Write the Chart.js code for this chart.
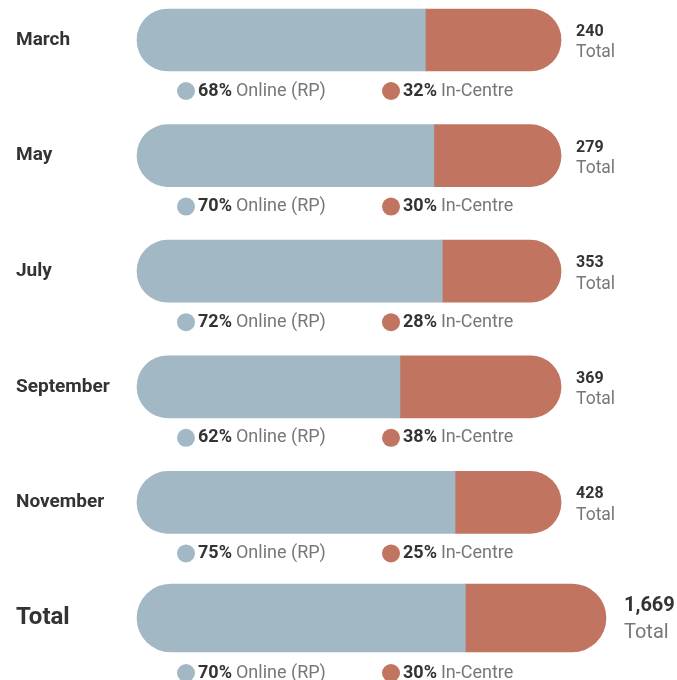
<!DOCTYPE html>
<html>
<head>
<meta charset="utf-8">
<script src="https://cdn.jsdelivr.net/npm/chart.js@4.4.0/dist/chart.umd.min.js"></script>
<style>
  html, body { margin: 0; padding: 0; background: #fff; }
  #wrap { width: 677px; height: 680px; position: relative; }
</style>
</head>
<body>
<div id="wrap"><canvas id="chart"></canvas></div>
<script>
const categories = ['March', 'May', 'July', 'September', 'November', 'Total'];
const onlinePct = [68, 70, 72, 62, 75, 70];
const inCentrePct = [32, 30, 28, 38, 25, 30];
const totals = [240, 279, 353, 369, 428, 1669];
const seriesNames = ['Online (RP)', 'In-Centre'];

const BLUE = '#a2b8c4';
const RED = '#c17460';
const DARK = '#333333';
const GREY = '#777777';
const FONT = 'Roboto, "Open Sans", sans-serif';
const last = categories.length - 1;

// month rows use one axis, the Total row its own (wider) axis
const monthsOnly = arr => arr.map((v, i) => (i < last ? v : null));
const totalOnly = arr => arr.map((v, i) => (i === last ? v : null));

const leftRound = { topLeft: 40, bottomLeft: 40, topRight: 0, bottomRight: 0 };
const rightRound = { topLeft: 0, bottomLeft: 0, topRight: 40, bottomRight: 40 };

const barBase = { borderSkipped: false, grouped: false, clip: false, borderWidth: 0 };

// text beside and below each bar
const annotations = {
    id: 'annotations',
    afterDatasetsDraw(chart) {
        const { ctx, scales, chartArea } = chart;
        ctx.save();
        categories.forEach((c, i) => {
            const y = scales.y.getPixelForValue(i);
            const isTotal = i === last;
            const xEnd = (isTotal ? scales.xTotal : scales.x).getPixelForValue(100) + (isTotal ? 18 : 15);

            // total count on the right
            ctx.textAlign = 'left';
            ctx.textBaseline = 'middle';
            ctx.fillStyle = DARK;
            ctx.font = `bold ${isTotal ? 20 : 16}px ${FONT}`;
            ctx.fillText(totals[i].toLocaleString('en-US'), xEnd, y + (isTotal ? -12 : -8));
            ctx.fillStyle = GREY;
            ctx.font = `${isTotal ? 20 : 17.5}px ${FONT}`;
            ctx.fillText('Total', xEnd, y + (isTotal ? 15 : 13));

            // legend line below the bar
            const ly = y + (isTotal ? 55 : 51);
            const items = [
                { x: chartArea.left + 49, pct: onlinePct[i], name: seriesNames[0], color: BLUE },
                { x: chartArea.left + 254, pct: inCentrePct[i], name: seriesNames[1], color: RED }
            ];
            items.forEach(it => {
                ctx.fillStyle = it.color;
                ctx.beginPath();
                ctx.arc(it.x, ly, 9, 0, Math.PI * 2);
                ctx.fill();
                let tx = it.x + 12;
                ctx.fillStyle = DARK;
                ctx.font = `bold 18px ${FONT}`;
                const p = it.pct + '%';
                ctx.fillText(p, tx, ly);
                tx += ctx.measureText(p).width + 4;
                ctx.fillStyle = GREY;
                ctx.font = `18px ${FONT}`;
                ctx.fillText(it.name, tx, ly);
            });
        });
        ctx.restore();
    }
};

new Chart(document.getElementById('chart'), {
    type: 'bar',
    data: {
        labels: categories,
        datasets: [
            { ...barBase, label: seriesNames[0], data: monthsOnly(onlinePct), backgroundColor: BLUE,
              borderRadius: leftRound, barThickness: 62, xAxisID: 'x' },
            { ...barBase, label: seriesNames[1], data: monthsOnly(inCentrePct), backgroundColor: RED,
              borderRadius: rightRound, barThickness: 62, xAxisID: 'x' },
            { ...barBase, label: seriesNames[0], data: totalOnly(onlinePct), backgroundColor: BLUE,
              borderRadius: leftRound, barThickness: 68, xAxisID: 'xTotal' },
            { ...barBase, label: seriesNames[1], data: totalOnly(inCentrePct), backgroundColor: RED,
              borderRadius: rightRound, barThickness: 68, xAxisID: 'xTotal' }
        ]
    },
    options: {
        indexAxis: 'y',
        responsive: true,
        maintainAspectRatio: false,
        animation: false,
        layout: { padding: { left: 16, right: 71, top: 40, bottom: 62 } },
        plugins: {
            legend: { display: false },
            tooltip: { enabled: false }
        },
        scales: {
            x: { type: 'linear', stacked: true, min: 0, max: 110.6, display: false },
            xTotal: { type: 'linear', axis: 'x', stacked: true, min: 0, max: 100, display: false },
            y: {
                type: 'category',
                stacked: true,
                offset: false,
                grid: { display: false },
                border: { display: false },
                afterFit(scale) { scale.width = 121; },
                ticks: {
                    crossAlign: 'far',
                    padding: 0,
                    color: DARK,
                    font: ctx => ({ family: FONT, weight: 'bold', size: ctx.index === last ? 24 : 19 })
                }
            }
        }
    },
    plugins: [annotations]
});
</script>
</body>
</html>
